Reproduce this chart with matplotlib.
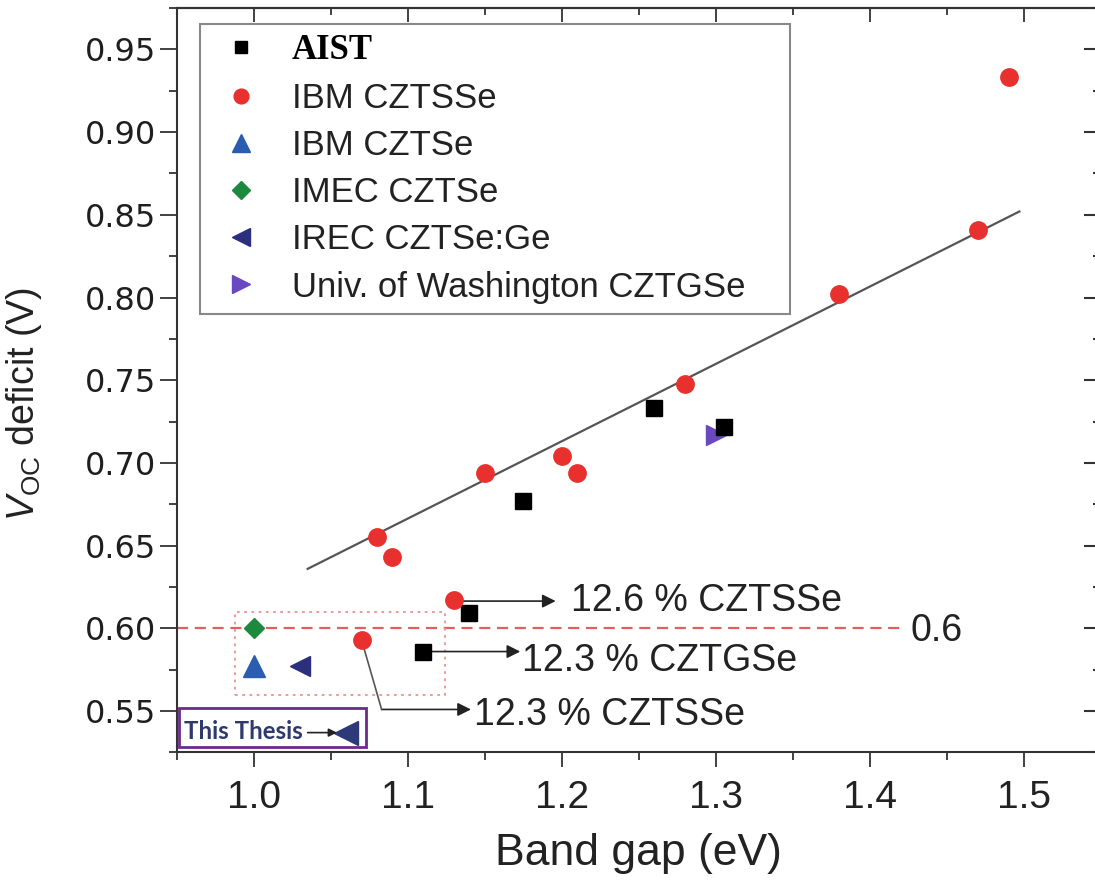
import matplotlib
matplotlib.use("Agg")
import matplotlib.pyplot as plt
from matplotlib.ticker import MultipleLocator
from matplotlib.patches import Rectangle

plt.rcParams['font.family'] = ['Liberation Sans', 'DejaVu Sans']
plt.rcParams['mathtext.fontset'] = 'custom'
plt.rcParams['mathtext.rm'] = 'Liberation Sans'
plt.rcParams['mathtext.it'] = 'Liberation Sans:italic'

# values
aist_x = [1.11, 1.14, 1.175, 1.26, 1.305]
aist_y = [0.586, 0.609, 0.677, 0.733, 0.722]
ibm_cztsse_x = [1.07, 1.08, 1.09, 1.13, 1.15, 1.20, 1.21, 1.28, 1.38, 1.47, 1.49]
ibm_cztsse_y = [0.593, 0.655, 0.643, 0.617, 0.694, 0.704, 0.694, 0.748, 0.802, 0.841, 0.933]
ibm_cztse_x = [1.0]
ibm_cztse_y = [0.577]
imec_x = [1.0]
imec_y = [0.600]
irec_x = [1.03]
irec_y = [0.577]
uw_x = [1.30]
uw_y = [0.717]
thesis_x = [1.06]
thesis_y = [0.537]

# linear fit drawn in the figure
fit_x = [1.035, 1.497]
fit_y = [0.636, 0.852]

limit_v = 0.6
limit_end = 1.42

# highlighted records: (text, arrow start, arrow end, text position)
records = [
    ("12.6 % CZTSSe", (1.13, 0.6165), (1.196, 0.6165), (1.206, 0.6165)),
    ("12.3 % CZTGSe", (1.11, 0.586), (1.173, 0.586), (1.174, 0.5805)),
    ("12.3 % CZTSSe", (1.083, 0.551), (1.141, 0.551), (1.143, 0.5478)),
]

fig = plt.figure(figsize=(10.95, 8.81), dpi=100)
ax = fig.add_axes([0.1614, 0.1459, 0.8441, 0.845])

ax.plot(fit_x, fit_y, color='#555555', lw=1.6, zorder=2)
ax.plot([0.95, limit_end], [limit_v, limit_v], color='#e06060', lw=1.6,
        dashes=(5, 3), zorder=1)
ax.text(1.426, 0.5985, "0.6", fontsize=27, color='#222222', va='center', ha='left')

# dotted box around the low-gap group
ax.add_patch(Rectangle((0.9875, 0.560), 1.124 - 0.9875, 0.050, fill=False,
                       edgecolor='#f09090', lw=1.3, linestyle=(0, (1.5, 2.5)), zorder=1))

ax.plot(uw_x, uw_y, linestyle='none', marker='>', ms=15, color='#6a48c0',
        label='Univ. of Washington CZTGSe', zorder=4)
ax.plot(aist_x, aist_y, linestyle='none', marker='s', ms=11, color='black',
        label='AIST', zorder=5)
ax.plot(ibm_cztsse_x, ibm_cztsse_y, linestyle='none', marker='o', ms=12.5,
        color='#e8302e', label='IBM CZTSSe', zorder=5)
ax.plot(ibm_cztse_x, ibm_cztse_y, linestyle='none', marker='^', ms=16,
        color='#2a5cb0', label='IBM CZTSe', zorder=5)
ax.plot(imec_x, imec_y, linestyle='none', marker='D', ms=10.5, color='#1b8a3c',
        label='IMEC CZTSe', zorder=5)
ax.plot(irec_x, irec_y, linestyle='none', marker='<', ms=15, color='#2c2f7c',
        label='IREC CZTSe:Ge', zorder=5)
ax.plot(thesis_x, thesis_y, linestyle='none', marker='<', ms=17, color='#2c3a78',
        zorder=5)

# arrows to the record cells
arr = dict(arrowstyle='-|>', color='#222222', lw=1.2, mutation_scale=20,
           shrinkA=0, shrinkB=0)
for txt, start, end, pos in records:
    ax.annotate("", xy=end, xytext=start, arrowprops=arr, zorder=3)
    ax.text(pos[0], pos[1], txt, fontsize=27, color='#222222', va='center', ha='left')
ax.plot([ibm_cztsse_x[0], records[2][1][0]], [ibm_cztsse_y[0], records[2][1][1]],
        color='#555555', lw=1.2, zorder=3)

# this thesis tag
ax.add_patch(Rectangle((0.9517, 0.5284), 1.0727 - 0.9517, 0.552 - 0.5284, fill=False,
                       edgecolor='#6b2a8c', lw=2, zorder=6, clip_on=False))
ax.text(0.9545, 0.5375, "This Thesis", fontsize=17.3, fontweight='bold',
        family=['Lato', 'DejaVu Sans'], color='#2e3a6e', va='center', ha='left', zorder=6)
ax.annotate("", xy=(1.054, thesis_y[0]), xytext=(1.035, thesis_y[0]),
            arrowprops=dict(arrowstyle='-|>', color='#222222', lw=1.2,
                            mutation_scale=12, shrinkA=0, shrinkB=0), zorder=6)

ax.set_xlim(0.95, 1.55)
ax.set_ylim(0.525, 0.975)

ax.xaxis.set_major_locator(MultipleLocator(0.1))
ax.xaxis.set_minor_locator(MultipleLocator(0.05))
ax.yaxis.set_major_locator(MultipleLocator(0.05))
ax.yaxis.set_minor_locator(MultipleLocator(0.025))
ax.xaxis.set_major_formatter(matplotlib.ticker.FormatStrFormatter('%.1f'))
ax.yaxis.set_major_formatter(matplotlib.ticker.FormatStrFormatter('%.2f'))

for s in ax.spines.values():
    s.set_color('#333333')
    s.set_linewidth(1.5)

ax.tick_params(axis='x', which='major', direction='out', length=11, width=1.3,
               pad=9, labelsize=28, colors='#333333', labelcolor='#222222')
ax.tick_params(axis='x', which='minor', direction='out', length=6, width=1.3,
               colors='#333333')
ax.tick_params(axis='y', which='major', direction='out', length=12, width=1.3,
               pad=3, labelsize=23, colors='#333333', labelcolor='#1e1e1e')
ax.tick_params(axis='y', which='minor', direction='out', length=5.5, width=1.3,
               colors='#333333')
for lab in ax.get_xticklabels():
    lab.set_family(['Liberation Sans Narrow', 'Liberation Sans'])
for lab in ax.get_yticklabels():
    lab.set_family('DejaVu Sans')

secx = ax.secondary_xaxis('top')
secx.xaxis.set_major_locator(MultipleLocator(0.1))
secx.xaxis.set_minor_locator(MultipleLocator(0.05))
secx.tick_params(which='major', direction='in', length=10, width=1.3, colors='#333333',
                 labeltop=False)
secx.tick_params(which='minor', direction='in', length=5, width=1.3, colors='#333333')
secx.spines['top'].set_color('#333333')
secx.spines['top'].set_linewidth(1.5)

secy = ax.secondary_yaxis('right')
secy.yaxis.set_major_locator(MultipleLocator(0.05))
secy.yaxis.set_minor_locator(MultipleLocator(0.025))
secy.tick_params(which='major', direction='in', length=12, width=1.5, colors='#333333',
                 labelright=False)
secy.tick_params(which='minor', direction='in', length=6, width=1.5, colors='#333333')

ax.set_xlabel("Band gap (eV)", fontsize=32, color='#222222')
ax.xaxis.set_label_coords(0.5, -0.1356)
ax.xaxis.label.set_va('center')
ax.set_ylabel(r"$V_{\mathrm{OC}}$ deficit (V)", fontsize=27, color='#222222')
ax.yaxis.set_label_coords(-0.165, 0.468)
ax.yaxis.label.set_va('center')

handles, labels = ax.get_legend_handles_labels()
order = ['AIST', 'IBM CZTSSe', 'IBM CZTSe', 'IMEC CZTSe', 'IREC CZTSe:Ge',
         'Univ. of Washington CZTGSe']
hmap = dict(zip(labels, handles))
leg = ax.legend([hmap[k] for k in order], order, loc='upper left',
                bbox_to_anchor=(0.0252, 0.58, 0.6383, 0.3985), mode='expand',
                borderaxespad=0,
                prop={'family': 'Liberation Sans', 'size': 25},
                frameon=True, fancybox=False, edgecolor='#888888', framealpha=1,
                borderpad=0.3, handlelength=1.75, handletextpad=0.6,
                labelspacing=0.41, markerscale=0.85)
leg.get_frame().set_linewidth(1.5)
for t in leg.get_texts():
    t.set_color('#222222')
leg.get_texts()[0].set_family('Liberation Serif')
leg.get_texts()[0].set_fontweight('bold')
leg.get_texts()[0].set_color('black')
leg.set_zorder(7)

fig.savefig("out.png", dpi=100)
